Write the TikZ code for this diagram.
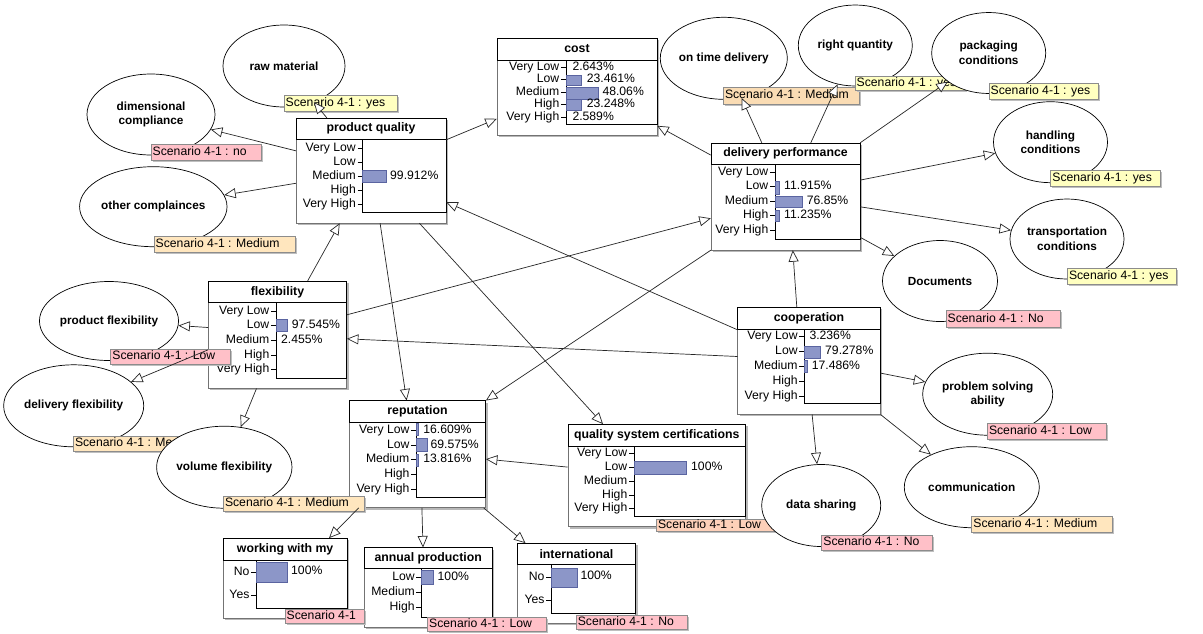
\documentclass[tikz,border=0pt]{standalone}
\usepackage{fontspec}
\setmainfont{Liberation Sans}
\usetikzlibrary{arrows.meta,shapes.geometric,calc,fit}
\definecolor{ylab}{RGB}{255,255,192}
\definecolor{plab}{RGB}{255,192,200}
\definecolor{mlab}{RGB}{255,230,190}
\definecolor{olab}{RGB}{250,220,180}
\definecolor{llab}{RGB}{253,208,185}
\definecolor{barfill}{RGB}{140,150,200}
\definecolor{barline}{RGB}{90,100,160}
\tikzset{
 boxline/.style={draw=black!55, line width=0.8pt},
 titletext/.style={font=\fontsize{12.3}{14}\selectfont\bfseries, inner sep=0pt},
 rowtext/.style={font=\fontsize{12.2}{13}\selectfont, inner sep=0pt, text height=8.6pt, text depth=2.4pt},
 barbox/.style={fill=barfill, draw=barline, line width=0.6pt},
 ell/.style={ellipse, draw=black, line width=0.7pt, fill=white, inner sep=0pt, align=center, font=\fontsize{11.8}{14.5}\selectfont\bfseries},
 edge/.style={draw=black!85, line width=0.7pt, -{Triangle[fill=white, length=11.5pt, width=10pt]}},
}
% box: name x1 y1 x2 y2 ydiv xchart ybottom title
\newcommand\bnet[9]{%
 \fill[black!28] ({#2+2},{#3+2}) rectangle ({#4+2},{#5+2});
 \draw[boxline, fill=white] (#2,#3) rectangle (#4,#5);
 \draw[black, line width=0.8pt] (#2,#3) rectangle (#4,#6);
 \draw[black, line width=0.8pt] (#7,#6) rectangle (#4,#8);
 \node[fit={(#2,#3) (#4,#5)}, inner sep=0pt] (#1) {};
 \node[titletext] (#1-t) at ({(#2+#4)/2},{(#3+#6)/2}) {#9};
}
% row: name xchart y label
\newcommand\brow[4]{%
 \node[rowtext, anchor=east] (#1) at ({#2-6.5},#3) {#4};
 \draw[black, line width=0.7pt] ({#2-5},#3) -- (#2,#3);
}
% bar: xchart ycenter length halfheight
\newcommand\bbar[4]{\draw[barbox] (#1,{#2-#4}) rectangle ({#1+#3},{#2+#4});}
% pct: name x y text
\newcommand\pct[4]{\node[rowtext, anchor=west] (#1) at (#2,#3) {#4};}
% scenario label: name x1 y1 x2 y2 colour text
\newcommand\scenlab[7]{%
 \fill[black!25] ({#2+1.5},{#3+1.5}) rectangle ({#4+1.5},{#5+1.5});
 \draw[black!45, line width=0.6pt, fill=#6] (#2,#3) rectangle (#4,#5);
 \node[rowtext, anchor=west] (#1) at ({#2+1.5},{(#3+#5)/2}) {#7};
}
\begin{document}
\begin{tikzpicture}[x=1pt,y=-1pt]
\useasboundingbox (0,0) rectangle (1203,633);
\fill[white] (0,0) rectangle (1203,633);

% ---------- boxes ----------
\bnet{cost}{497}{38}{657}{135}{60}{566}{124}{cost}
\brow{cost-r1}{566}{67.3}{Very Low}
\brow{cost-r2}{566}{79.8}{Low}
\brow{cost-r3}{566}{92.3}{Medium}
\brow{cost-r4}{566}{104.8}{High}
\brow{cost-r5}{566}{117.2}{Very High}
\bbar{566}{80.3}{15.3}{5.4}
\bbar{566}{93.3}{32.3}{5.6}
\bbar{566}{104.7}{15.3}{5.3}
\pct{cost-p1}{572.3}{67.3}{2.643\%}
\pct{cost-p2}{586.7}{79.8}{23.461\%}
\pct{cost-p3}{602.3}{92.3}{48.06\%}
\pct{cost-p4}{586.7}{104.8}{23.248\%}
\pct{cost-p5}{572.3}{117.2}{2.589\%}

\bnet{pq}{296}{118}{446}{223}{139.5}{362.5}{212.5}{product quality}
\brow{pq-r1}{362.5}{148}{Very Low}
\brow{pq-r2}{362.5}{162.3}{Low}
\brow{pq-r3}{362.5}{176.4}{Medium}
\brow{pq-r4}{362.5}{190.6}{High}
\brow{pq-r5}{362.5}{204.8}{Very High}
\bbar{362.5}{176.2}{23.7}{6}
\pct{pq-p3}{390}{176.4}{99.912\%}

\bnet{del}{711}{143}{860}{250}{164}{775}{239}{delivery performance}
\brow{del-r1}{775}{172.3}{Very Low}
\brow{del-r2}{775}{186.8}{Low}
\brow{del-r3}{775}{201.3}{Medium}
\brow{del-r4}{775}{215.8}{High}
\brow{del-r5}{775}{230.3}{Very High}
\bbar{775}{187.5}{4}{6.3}
\bbar{775}{202}{27.3}{5.5}
\bbar{775}{215.5}{4}{5.5}
\pct{del-p2}{784}{186.8}{11.915\%}
\pct{del-p3}{806.7}{201.3}{76.85\%}
\pct{del-p4}{784}{215.8}{11.235\%}

\bnet{flex}{208.3}{281}{346.7}{388.3}{302.7}{276}{378.3}{flexibility}
\brow{flex-r1}{276}{311}{Very Low}
\brow{flex-r2}{276}{325.7}{Low}
\brow{flex-r3}{276}{340.4}{Medium}
\brow{flex-r4}{276}{355}{High}
\brow{flex-r5}{276}{369.7}{Very High}
\bbar{276}{325.5}{11.3}{6.2}
\pct{flex-p2}{291.7}{325.7}{97.545\%}
\pct{flex-p3}{281}{340.4}{2.455\%}

\bnet{coop}{737.7}{307.3}{880.3}{414.3}{329}{804.3}{403.3}{cooperation}
\brow{coop-r1}{804.3}{336.3}{Very Low}
\brow{coop-r2}{804.3}{351.3}{Low}
\brow{coop-r3}{804.3}{366.3}{Medium}
\brow{coop-r4}{804.3}{381.2}{High}
\brow{coop-r5}{804.3}{396}{Very High}
\bbar{804.3}{352.2}{16.4}{6.2}
\bbar{804.3}{366.2}{3}{6.2}
\pct{coop-p1}{809.3}{336.3}{3.236\%}
\pct{coop-p2}{825}{351.3}{79.278\%}
\pct{coop-p3}{811.7}{366.3}{17.486\%}

\bnet{rep}{349.3}{400.7}{485.7}{507.7}{422.3}{416.1}{497.3}{reputation}
\brow{rep-r1}{416.1}{430}{Very Low}
\brow{rep-r2}{416.1}{445}{Low}
\brow{rep-r3}{416.1}{459.7}{Medium}
\brow{rep-r4}{416.1}{474.5}{High}
\brow{rep-r5}{416.1}{489}{Very High}
\bbar{416.1}{429.2}{2.5}{5.8}
\bbar{416.1}{445}{11}{6.7}
\bbar{416.1}{460}{2.5}{6}
\pct{rep-p1}{423.2}{430}{16.609\%}
\pct{rep-p2}{430.4}{445}{69.575\%}
\pct{rep-p3}{423.2}{459.7}{13.816\%}

\bnet{qsc}{567.9}{424.3}{745.7}{526.7}{446}{634}{516.7}{quality system certifications}
\brow{qsc-r1}{634}{453.3}{Very Low}
\brow{qsc-r2}{634}{467.3}{Low}
\brow{qsc-r3}{634}{481.2}{Medium}
\brow{qsc-r4}{634}{495}{High}
\brow{qsc-r5}{634}{508.5}{Very High}
\bbar{634}{467.8}{52.4}{6.2}
\pct{qsc-p2}{691}{467.3}{100\%}

\bnet{wwm}{223.2}{538.3}{347.1}{618.3}{560}{256.1}{608.3}{working with my}
\brow{wwm-r1}{256.1}{572}{No}
\brow{wwm-r2}{256.1}{595}{Yes}
\bbar{256.1}{572.5}{30.7}{9.8}
\pct{wwm-p1}{291}{571}{100\%}

\bnet{intl}{517.1}{543.3}{635.7}{623.3}{564.3}{551.1}{613.3}{international}
\brow{intl-r1}{551.1}{577.3}{No}
\brow{intl-r2}{551.1}{600}{Yes}
\bbar{551.1}{577.8}{25.7}{9.5}
\pct{intl-p1}{580.4}{576.5}{100\%}

\bnet{ap}{364.3}{547.7}{492.1}{627.3}{568.3}{421.4}{617}{annual production}
\brow{ap-r1}{421.4}{577.3}{Low}
\brow{ap-r2}{421.4}{592.5}{Medium}
\brow{ap-r3}{421.4}{607.5}{High}
\bbar{421.4}{577.2}{11.5}{7.2}
\pct{ap-p1}{437.5}{577}{100\%}

% box scenario labels
\scenlab{wwm-s}{285}{609.3}{364.3}{623.3}{plab}{Scenario 4-1}
\scenlab{ap-s}{427.5}{617.3}{546.4}{631.7}{plab}{Scenario 4-1 : Low}
\scenlab{in-s}{576.1}{615}{687.5}{629}{plab}{Scenario 4-1 : No}
\scenlab{qsc-s}{656.4}{519.3}{776}{531.7}{llab}{Scenario 4-1 : Low}

% ---------- ellipses ----------
\node[ell, minimum width=122pt, minimum height=82pt] (raw) at (284,66) {raw material};
\scenlab{raw-s}{284}{95.7}{397.3}{111}{ylab}{Scenario 4-1 : yes}
\node[ell, minimum width=128pt, minimum height=81pt] (dim) at (151,114.5) {dimensional\\compliance};
\scenlab{dim-s}{151}{144}{261.7}{160}{plab}{Scenario 4-1 : no}
\node[ell, minimum width=120pt, minimum height=80pt] (oth) at (153.3,206.7) {other complainces};
\scenlab{oth-s}{154}{236.7}{295}{252.7}{mlab}{Scenario 4-1 : Medium}
\node[ell, minimum width=132pt, minimum height=79pt] (pf) at (109,321) {product flexibility};
\scenlab{pf-s}{110.7}{349}{230}{364}{plab}{Scenario 4-1 : Low}
\node[ell, minimum width=133pt, minimum height=82pt] (df) at (73.7,405.8) {delivery flexibility};
\scenlab{df-s}{73.3}{436}{213}{451}{mlab}{Scenario 4-1 : Medium}
\node[ell, minimum width=130pt, minimum height=82pt] (vf) at (224.3,467.2) {volume flexibility};
\scenlab{vf-s}{223.3}{496}{364}{511.7}{mlab}{Scenario 4-1 : Medium}
\node[ell, minimum width=124pt, minimum height=82pt] (ot) at (723.8,58.3) {on time delivery};
\scenlab{ot-s}{723.3}{87.7}{859.3}{104}{olab}{Scenario 4-1 : Medium}
\node[ell, minimum width=114pt, minimum height=81pt] (rq) at (855.3,45.5) {right quantity};
\scenlab{rq-s}{855}{76}{965}{90}{ylab}{Scenario 4-1 : yes}
\node[ell, minimum width=114pt, minimum height=81pt] (pk) at (988.7,53) {packaging\\conditions};
\scenlab{pk-s}{989}{83.3}{1098.3}{99}{ylab}{Scenario 4-1 : yes}
\node[ell, minimum width=114pt, minimum height=81pt] (hc) at (1050.5,142.2) {handling\\conditions};
\scenlab{hc-s}{1050.7}{170.7}{1160.7}{186.7}{ylab}{Scenario 4-1 : yes}
\node[ell, minimum width=114pt, minimum height=80pt] (tc) at (1067,239) {transportation\\conditions};
\scenlab{tc-s}{1067.3}{268.3}{1176.7}{284}{ylab}{Scenario 4-1 : yes}
\node[ell, minimum width=115pt, minimum height=81pt] (doc) at (940,281) {Documents};
\scenlab{doc-s}{946}{310.7}{1060}{327.3}{plab}{Scenario 4-1 : No}
\node[ell, minimum width=130pt, minimum height=82pt] (ps) at (987.7,394.2) {problem solving\\ability};
\scenlab{ps-s}{987.3}{423.3}{1106.7}{439}{plab}{Scenario 4-1 : Low}
\node[ell, minimum width=135pt, minimum height=81pt] (cm) at (971.8,487.2) {communication};
\scenlab{cm-s}{971.7}{516.7}{1112.3}{532.3}{mlab}{Scenario 4-1 : Medium}
\node[ell, minimum width=119pt, minimum height=82pt] (ds) at (821.2,505.5) {data sharing};
\scenlab{ds-s}{821.7}{535}{932.3}{550.7}{plab}{Scenario 4-1 : No}

% ---------- edges ----------
\draw[edge] ($(pq.north west)+(31,0)$) -- (raw);
\draw[edge] ($(pq.north west)+(0,33)$) -- (dim);
\draw[edge] ($(pq.north west)+(0,65.5)$) -- (oth);
\draw[edge] ($(pq.north east)+(0,22)$) -- ($(cost.north west)+(0,81)$);
\draw[edge] ($(flex.north west)+(99.6,0)$) -- ($(pq.south west)+(43.9,0)$);
\draw[edge] ($(pq.south west)+(84.3,0)$) -- ($(rep.north west)+(57.5,0)$);
\draw[edge] ($(pq.south west)+(123.6,0)$) -- ($(qsc.north west)+(35.3,0)$);
\draw[edge] ($(coop.north west)+(0,22.7)$) -- ($(pq.north east)+(0,84.3)$);
\draw[edge] ($(coop.north west)+(0,49.4)$) -- ($(flex.north east)+(0,58)$);
\draw[edge] ($(flex.north east)+(0,34)$) -- ($(del.north west)+(0,75.5)$);
\draw[edge] (del.south west) -- (rep.north east);
\draw[edge] ($(coop.north west)+(59.3,0)$) -- ($(del.south west)+(82,0)$);
\draw[edge] ($(del.north west)+(0,12.3)$) -- ($(cost.north east)+(0,88)$);
\draw[edge] ($(del.north west)+(51,0)$) -- (ot);
\draw[edge] ($(del.north west)+(100,0)$) -- (rq);
\draw[edge] (del.north east) -- (pk);
\draw[edge] ($(del.north east)+(0,37.3)$) -- (hc);
\draw[edge] ($(del.north east)+(0,64)$) -- (tc);
\draw[edge] ($(del.north east)+(0,94.5)$) -- (doc);
\draw[edge] ($(coop.north east)+(0,66)$) -- (ps);
\draw[edge] ($(coop.south west)+(74.6,0)$) -- (ds);
\draw[edge] (coop.south east) -- (cm);
\draw[edge] ($(flex.north west)+(0,46.7)$) -- (pf);
\draw[edge] ($(flex.north west)+(0,69)$) -- (df);
\draw[edge] ($(flex.south west)+(48.4,0)$) -- (vf);
\draw[edge] ($(qsc.north west)+(0,43)$) -- ($(rep.north east)+(0,58.6)$);
\draw[edge] ($(rep.south west)+(9.6,0)$) -- ($(wwm.north west)+(106,0)$);
\draw[edge] ($(rep.south west)+(72.8,0)$) -- ($(ap.north west)+(58.9,0)$);
\draw[edge] ($(rep.south west)+(134.6,0)$) -- ($(intl.north west)+(8.6,0)$);
\end{tikzpicture}
\end{document}
